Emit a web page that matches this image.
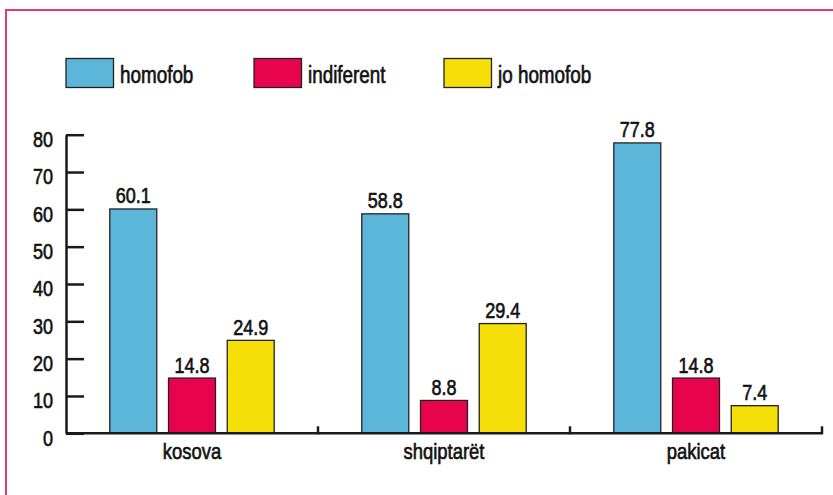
<!DOCTYPE html>
<html>
<head>
<meta charset="utf-8">
<script src="https://cdn.jsdelivr.net/npm/d3@7"></script>
<style>
  body { margin: 0; background: #fff; }
  text {
    font-family: "Liberation Sans", Arial, sans-serif;
    fill: #111;
    stroke: #111;
    stroke-width: 0.65px;
  }
</style>
</head>
<body>
<div id="chart-area"><svg></svg></div>
<script>
const categories = ["kosova", "shqiptarët", "pakicat"];
const seriesNames = ["homofob", "indiferent", "jo homofob"];
const homofob = [60.1, 58.8, 77.8];
const indiferent = [14.8, 8.8, 14.8];
const joHomofob = [24.9, 29.4, 7.4];
const yTicks = [0, 10, 20, 30, 40, 50, 60, 70, 80];

const colors = ["#5cb6d9", "#e8034e", "#f6df08"];
const chartSize = { width: 833, height: 495 };
const plot = { left: 66, right: 822, top: 134.7, bottom: 433.3 };
const squeeze = 0.82; // the print uses a condensed face, fake it

const values = [homofob, indiferent, joHomofob];

// place text at (x, y) and squeeze it horizontally
const narrow = (sel, fx, fy) =>
  sel
    .attr("x", 0)
    .attr("y", 0)
    .attr("transform", (d, i) => `translate(${fx(d, i)}, ${fy(d, i)}) scale(${squeeze}, 1)`);

const drawChart = function() {
  const svg = d3
    .select("#chart-area svg")
    .attr("width", chartSize.width)
    .attr("height", chartSize.height);

  // pink frame, right and bottom edges fall outside the picture
  svg
    .append("rect")
    .attr("x", 6)
    .attr("y", 10)
    .attr("width", 900)
    .attr("height", 500)
    .attr("fill", "none")
    .attr("stroke", "#e83a6e")
    .attr("stroke-width", 2);

  const y = d3
    .scaleLinear()
    .domain([0, 80])
    .range([plot.bottom, plot.top]);

  const x0 = d3
    .scaleBand()
    .domain(categories)
    .range([plot.left, plot.right])
    .padding(0);

  const x1 = d3
    .scaleBand()
    .domain(seriesNames)
    .range([0, x0.bandwidth()])
    .paddingInner(0.2)
    .paddingOuter(0.746);

  // legend
  const legend = svg
    .selectAll(".legend")
    .data(seriesNames)
    .enter()
    .append("g")
    .attr("class", "legend")
    .attr("transform", (d, i) => `translate(${[66, 254, 444][i]}, 58.5)`);

  legend
    .append("rect")
    .attr("width", 47.5)
    .attr("height", 29)
    .attr("fill", (d, i) => colors[i])
    .attr("stroke", "#222")
    .attr("stroke-width", 1.3);

  legend
    .append("text")
    .style("font-size", "23px")
    .text(d => d)
    .call(narrow, () => 54, () => 24.8);

  // bars
  const groups = svg
    .selectAll(".group")
    .data(categories)
    .enter()
    .append("g")
    .attr("class", "group")
    .attr("transform", c => `translate(${x0(c)}, 0)`);

  const rows = (c, ci) =>
    seriesNames.map((s, si) => ({ s, si, v: values[si][ci] }));

  groups
    .selectAll("rect")
    .data(rows)
    .enter()
    .append("rect")
    .attr("x", d => x1(d.s))
    .attr("y", d => y(d.v))
    .attr("width", x1.bandwidth())
    .attr("height", d => y(0) - y(d.v))
    .attr("fill", d => colors[d.si])
    .attr("stroke", "#222")
    .attr("stroke-width", 1.3);

  groups
    .selectAll(".value")
    .data(rows)
    .enter()
    .append("text")
    .attr("class", "value")
    .attr("text-anchor", "middle")
    .style("font-size", "22px")
    .text(d => d.v.toFixed(1))
    .call(narrow, d => x1(d.s) + x1.bandwidth() / 2, d => y(d.v) - 5.5);

  // y axis with inward ticks
  const yAxis = d3
    .axisLeft(y)
    .tickValues(yTicks)
    .tickSizeInner(-18)
    .tickSizeOuter(0)
    .tickPadding(13);

  const yg = svg
    .append("g")
    .attr("transform", `translate(${plot.left}, 0)`)
    .call(yAxis);
  yg.attr("font-family", null).attr("font-size", null);
  yg.selectAll("path, line").attr("stroke", "#1a1a1a").attr("stroke-width", 2.5);
  yg.selectAll("text")
    .attr("dy", null)
    .attr("fill", null)
    .style("font-size", "22px")
    .call(narrow, () => -13, () => 11.8);

  // x axis: category labels, small upward ticks at group boundaries
  const xAxis = d3
    .axisBottom(x0)
    .tickSize(0)
    .tickPadding(11);

  const xg = svg
    .append("g")
    .attr("transform", `translate(0, ${plot.bottom})`)
    .call(xAxis);
  xg.attr("font-family", null).attr("font-size", null);
  xg.select(".domain")
    .attr("d", `M${plot.left},0H${plot.right}`)
    .attr("stroke", "#1a1a1a")
    .attr("stroke-width", 2.5);
  xg.selectAll("text")
    .attr("dy", null)
    .attr("fill", null)
    .style("font-size", "22.5px")
    .call(narrow, () => 0, () => 25.5);

  xg.selectAll(".bound")
    .data(categories)
    .enter()
    .append("line")
    .attr("class", "bound")
    .attr("x1", c => x0(c) + x0.bandwidth())
    .attr("x2", c => x0(c) + x0.bandwidth())
    .attr("y1", 1)
    .attr("y2", -7)
    .attr("stroke", "#1a1a1a")
    .attr("stroke-width", 2.5);
};

window.onload = drawChart;
</script>
</body>
</html>
